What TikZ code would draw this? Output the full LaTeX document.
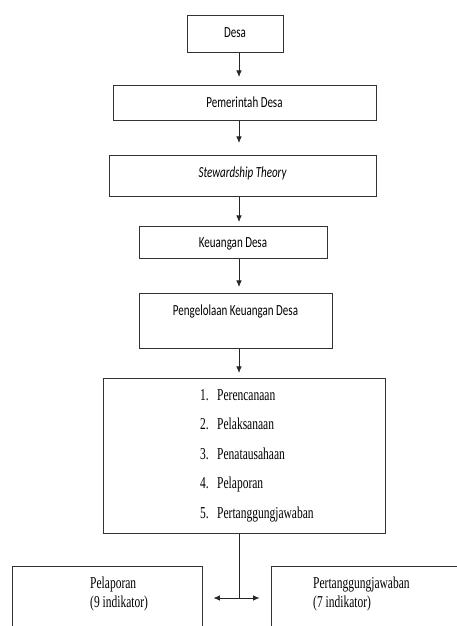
\documentclass[tikz,border=0pt]{standalone}
\usepackage{fontspec}
\setmainfont{Liberation Serif}
\newfontfamily\serfont{Liberation Serif}
\newfontfamily\calfont{Carlito}
\usetikzlibrary{arrows.meta}
\newcommand{\tallc}[1]{\scalebox{1}[1.4]{#1}}
\newcommand{\tallt}[1]{\scalebox{1}[1.45]{#1}}
\begin{document}
\begin{tikzpicture}[x=1pt,y=1pt,
  box/.style={draw=black!80, line width=0.8pt, inner sep=0pt, anchor=north,
              font=\calfont\fontsize{11}{13}\selectfont},
  conn/.style={draw=black!85, line width=0.8pt},
  arr/.style={conn, -{Latex[length=6.5pt,width=5.5pt]}},
  item/.style={anchor=base west, inner sep=0pt, font=\serfont\fontsize{11.5}{14}\selectfont},
]
\useasboundingbox (0,0) rectangle (457,626);
% top chain
\node[box, minimum width=96pt, text height=22pt, text depth=15pt] (desa) at (235,611) {\tallc{Desa}};
\node[box, minimum width=263pt, text height=22pt, text depth=13pt] (pem) at (244.5,541) {\tallc{Pemerintah Desa}};
\node[box, minimum width=267pt, text height=22pt, text depth=19pt] (stew) at (242.5,471) {\tallc{\itshape Stewardship Theory}};
\node[box, minimum width=188pt, text height=21pt, text depth=11pt] (keu) at (233,400) {\tallc{Keuangan Desa}};
\node[box, minimum width=193pt, text height=22pt, text depth=33pt] (peng) at (235.5,333) {\tallc{Pengelolaan Keuangan Desa}};
% list box
\node[box, minimum width=282pt, minimum height=155pt] (list) at (244,248) {};
\node[item] (i1) at (200,225) {\tallt{\makebox[17pt][l]{1.}Perencanaan}};
\node[item] (i2) at (200,196) {\tallt{\makebox[17pt][l]{2.}Pelaksanaan}};
\node[item] (i3) at (200,166) {\tallt{\makebox[17pt][l]{3.}Penatausahaan}};
\node[item] (i4) at (200,137) {\tallt{\makebox[17pt][l]{4.}Pelaporan}};
\node[item] (i5) at (200,107) {\tallt{\makebox[17pt][l]{5.}Pertanggungjawaban}};
% bottom boxes (cut by the page edge)
\node[box, minimum width=190pt, minimum height=100pt] (lap) at (107,60) {};
\node[box, minimum width=329pt, minimum height=100pt] (tg) at (435.5,60) {};
\node[item] (lapa) at (90,37) {\tallt{Pelaporan}};
\node[item] (lapb) at (90,18) {\tallt{(9 indikator)}};
\node[item] (tga) at (313,37) {\tallt{Pertanggungjawaban}};
\node[item] (tgb) at (313,18) {\tallt{(7 indikator)}};
% connectors
\coordinate (ax) at (239,0);
\draw[arr, shorten >=8pt] (desa.south -| ax) -- (pem.north -| ax);
\draw[arr, shorten >=12pt] (pem.south -| ax) -- (stew.north -| ax);
\draw[arr, shorten >=4pt] (stew.south -| ax) -- (keu.north -| ax);
\draw[arr, shorten >=6pt] (keu.south -| ax) -- (peng.north -| ax);
\draw[arr, shorten >=5pt] (peng.south -| ax) -- (list.north -| ax);
\coordinate (j) at (239,28);
\draw[conn] (list.south -| j) -- (j);
\draw[arr, shorten >=11pt] (j) -- (j -| lap.east);
\draw[arr, shorten >=11pt] (j) -- (j -| tg.west);
\end{tikzpicture}
\end{document}
